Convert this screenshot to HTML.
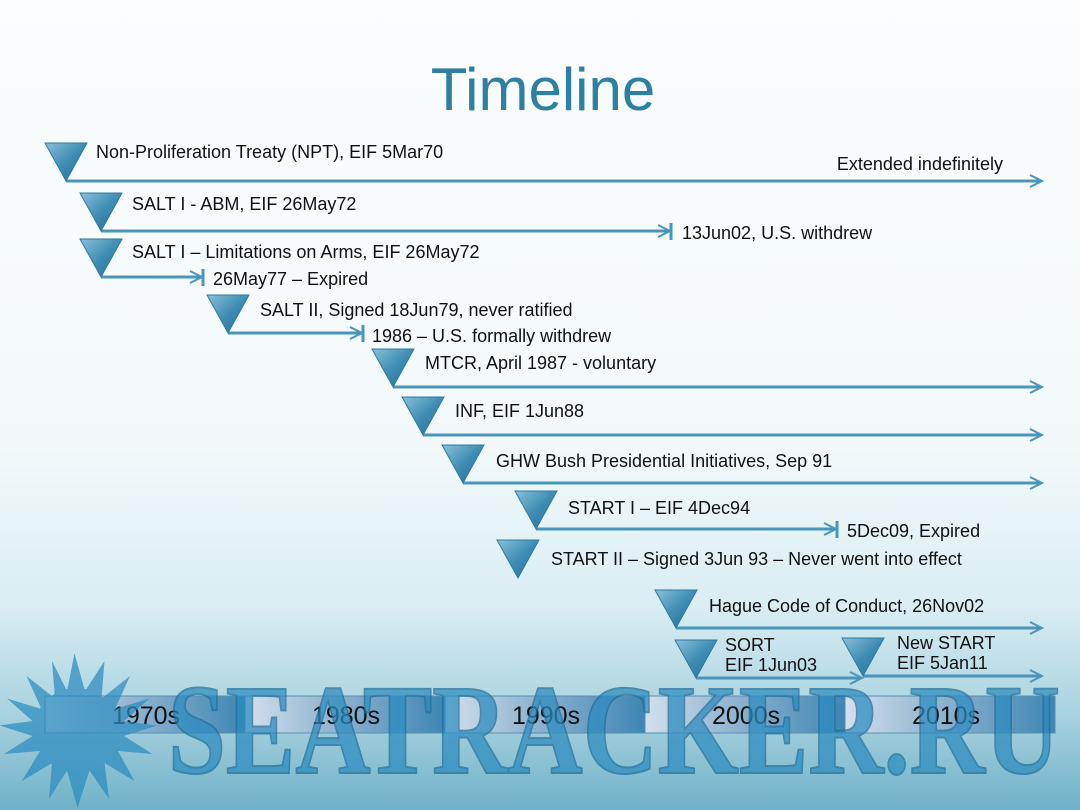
<!DOCTYPE html>
<html><head><meta charset="utf-8"><style>
html,body{margin:0;padding:0;width:1080px;height:810px;overflow:hidden}
svg{display:block}
.s{font-family:"Liberation Sans",sans-serif}
</style></head><body>
<svg width="1080" height="810" viewBox="0 0 1080 810" xmlns="http://www.w3.org/2000/svg">
<defs>
<linearGradient id="bg" x1="0" y1="0" x2="0" y2="1">
<stop offset="0" stop-color="#fbfdfe"/><stop offset="0.55" stop-color="#f3f9fb"/>
<stop offset="0.75" stop-color="#d9edf3"/><stop offset="0.88" stop-color="#a9d3e0"/><stop offset="1" stop-color="#6fb1c8"/>
</linearGradient>
<linearGradient id="tri" x1="0" y1="0" x2="1" y2="1">
<stop offset="0" stop-color="#8cc0da"/><stop offset="0.5" stop-color="#3f8db4"/><stop offset="1" stop-color="#246d95"/>
</linearGradient>
<linearGradient id="seg" x1="0" y1="0" x2="1" y2="0">
<stop offset="0" stop-color="#d3e0ee"/><stop offset="0.35" stop-color="#9dbcd6"/><stop offset="1" stop-color="#3f86b4"/>
</linearGradient>
<g id="T"><polygon points="0,0 42,0 21,38" fill="url(#tri)" stroke="#2c7aa0" stroke-width="1"/></g>
</defs>
<rect width="1080" height="810" fill="url(#bg)"/>
<text class="s" x="543" y="110" text-anchor="middle" font-size="60" fill="#2d7fa3">Timeline</text>

<g stroke="#4a95ba" stroke-width="3" fill="none">
<line x1="66" y1="181" x2="1040" y2="181"/><polyline points="1030,175 1042,181 1030,187" stroke-width="2"/>
<line x1="101" y1="231" x2="668" y2="231"/><polyline points="658,225 670,231 658,237" stroke-width="2"/><line x1="671" y1="223" x2="671" y2="240"/>
<line x1="101" y1="277" x2="200" y2="277"/><polyline points="190,271 202,277 190,283" stroke-width="2"/><line x1="203" y1="269" x2="203" y2="286"/>
<line x1="228" y1="333" x2="360" y2="333"/><polyline points="350,327 362,333 350,339" stroke-width="2"/><line x1="363" y1="325" x2="363" y2="342"/>
<line x1="393" y1="387" x2="1040" y2="387"/><polyline points="1030,381 1042,387 1030,393" stroke-width="2"/>
<line x1="423" y1="435" x2="1040" y2="435"/><polyline points="1030,429 1042,435 1030,441" stroke-width="2"/>
<line x1="463" y1="483" x2="1040" y2="483"/><polyline points="1030,477 1042,483 1030,489" stroke-width="2"/>
<line x1="536" y1="529" x2="834" y2="529"/><polyline points="824,523 836,529 824,535" stroke-width="2"/><line x1="837" y1="521" x2="837" y2="538"/>
<line x1="676" y1="628" x2="1040" y2="628"/><polyline points="1030,622 1042,628 1030,634" stroke-width="2"/>
<line x1="696" y1="678" x2="860" y2="678"/><polyline points="850,672 862,678 850,684" stroke-width="2"/>
<line x1="863" y1="676" x2="1040" y2="676"/><polyline points="1030,670 1042,676 1030,682" stroke-width="2"/>
</g>
<use href="#T" x="45" y="143"/><use href="#T" x="80" y="193"/><use href="#T" x="80" y="239"/>
<use href="#T" x="207" y="295"/><use href="#T" x="372" y="349"/><use href="#T" x="402" y="397"/>
<use href="#T" x="442" y="445"/><use href="#T" x="515" y="491"/><use href="#T" x="497" y="540"/>
<use href="#T" x="655" y="590"/><use href="#T" x="675" y="640"/><use href="#T" x="842" y="638"/>

<g class="s" font-size="18" fill="#111">
<text x="96" y="158">Non-Proliferation Treaty (NPT), EIF 5Mar70</text>
<text x="1003" y="170" text-anchor="end">Extended indefinitely</text>
<text x="132" y="210">SALT I - ABM, EIF 26May72</text>
<text x="682" y="239">13Jun02, U.S. withdrew</text>
<text x="132" y="258">SALT I – Limitations on Arms, EIF 26May72</text>
<text x="213" y="285">26May77 – Expired</text>
<text x="260" y="316">SALT II, Signed 18Jun79, never ratified</text>
<text x="372" y="342">1986 – U.S. formally withdrew</text>
<text x="425" y="369">MTCR, April 1987 - voluntary</text>
<text x="455" y="417">INF, EIF 1Jun88</text>
<text x="496" y="467">GHW Bush Presidential Initiatives, Sep 91</text>
<text x="568" y="514">START I – EIF 4Dec94</text>
<text x="847" y="537">5Dec09, Expired</text>
<text x="551" y="565">START II – Signed 3Jun 93 – Never went into effect</text>
<text x="709" y="612">Hague Code of Conduct, 26Nov02</text>
<text x="725" y="651">SORT</text><text x="725" y="671">EIF 1Jun03</text>
<text x="897" y="649">New START</text><text x="897" y="669">EIF 5Jan11</text>
</g>

<g>
<rect x="45" y="696" width="200" height="37" fill="url(#seg)" stroke="#5a8fb2" stroke-width="1"/>
<rect x="245" y="696" width="200" height="37" fill="url(#seg)" stroke="#5a8fb2" stroke-width="1"/>
<rect x="445" y="696" width="200" height="37" fill="url(#seg)" stroke="#5a8fb2" stroke-width="1"/>
<rect x="645" y="696" width="200" height="37" fill="url(#seg)" stroke="#5a8fb2" stroke-width="1"/>
<rect x="845" y="696" width="210" height="37" fill="url(#seg)" stroke="#5a8fb2" stroke-width="1"/>
<g class="s" font-size="25" fill="#111" text-anchor="middle">
<text x="146" y="724">1970s</text><text x="346" y="724">1980s</text><text x="546" y="724">1990s</text>
<text x="746" y="724">2000s</text><text x="946" y="724">2010s</text></g>
</g>

<g opacity="0.72" fill="#2c8cc0">
<g transform="translate(76,730) scale(1.5) translate(-76,-706)">
<polygon points="75,655 82,680 95,660 93,685 112,670 102,692 125,685 108,700 130,703 108,710 127,722 104,720 115,740 95,728 98,752 85,733 77,758 70,733 58,752 60,728 40,740 52,720 28,722 47,710 25,703 47,700 30,685 53,692 43,670 62,685 60,660 70,680"/>
<circle cx="76" cy="706" r="28"/>
</g>
<text x="168" y="773" style="font-family:'Liberation Serif',serif;font-weight:bold" font-size="128" textLength="892" lengthAdjust="spacingAndGlyphs" stroke="#1e6e9a" stroke-width="2">SEATRACKER.RU</text>
</g>
</svg>
</body></html>
